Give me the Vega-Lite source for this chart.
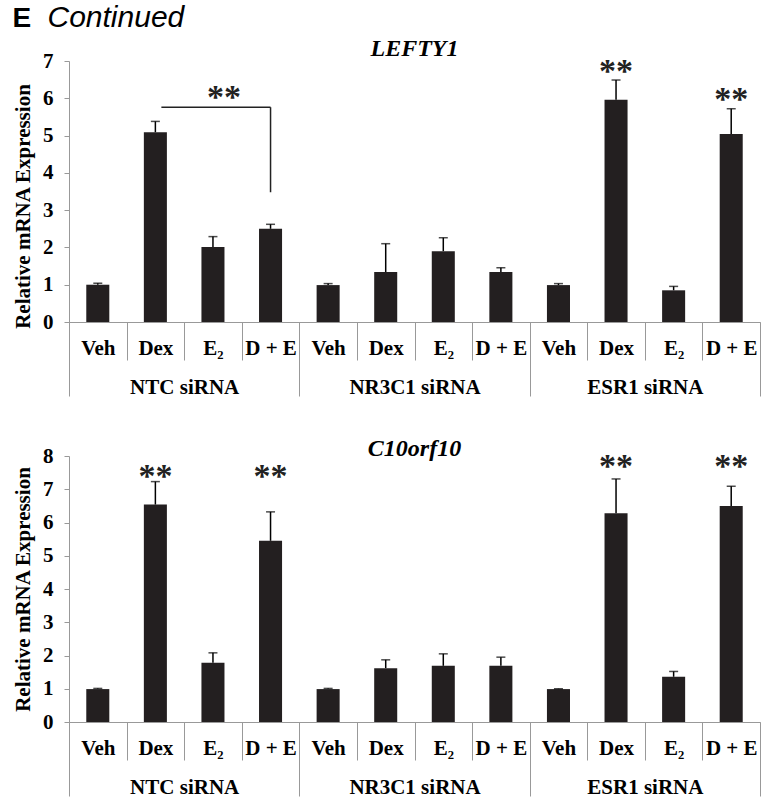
{
  "$schema": "https://vega.github.io/schema/vega-lite/v6.json",
  "background": "white",
  "padding": {"left": 12, "top": 3, "right": 5, "bottom": 5},
  "datasets": {
    "lefty": [
      {"group": "NTC siRNA", "treat": "Veh", "key": "NTC siRNA|Veh", "value": 1.0, "err": 1.04},
      {"group": "NTC siRNA", "treat": "Dex", "key": "NTC siRNA|Dex", "value": 5.09, "err": 5.38},
      {"group": "NTC siRNA", "treat": "E₂", "key": "NTC siRNA|E₂", "value": 2.01, "err": 2.29},
      {"group": "NTC siRNA", "treat": "D + E", "key": "NTC siRNA|D + E", "value": 2.5, "err": 2.62},
      {"group": "NR3C1 siRNA", "treat": "Veh", "key": "NR3C1 siRNA|Veh", "value": 0.99, "err": 1.03},
      {"group": "NR3C1 siRNA", "treat": "Dex", "key": "NR3C1 siRNA|Dex", "value": 1.34, "err": 2.1},
      {"group": "NR3C1 siRNA", "treat": "E₂", "key": "NR3C1 siRNA|E₂", "value": 1.9, "err": 2.26},
      {"group": "NR3C1 siRNA", "treat": "D + E", "key": "NR3C1 siRNA|D + E", "value": 1.34, "err": 1.455},
      {"group": "ESR1 siRNA", "treat": "Veh", "key": "ESR1 siRNA|Veh", "value": 0.99, "err": 1.03},
      {"group": "ESR1 siRNA", "treat": "Dex", "key": "ESR1 siRNA|Dex", "value": 5.96, "err": 6.49},
      {"group": "ESR1 siRNA", "treat": "E₂", "key": "ESR1 siRNA|E₂", "value": 0.85, "err": 0.955},
      {"group": "ESR1 siRNA", "treat": "D + E", "key": "ESR1 siRNA|D + E", "value": 5.04, "err": 5.72}
    ],
    "c10": [
      {"group": "NTC siRNA", "treat": "Veh", "key": "NTC siRNA|Veh", "value": 0.99, "err": 1.01},
      {"group": "NTC siRNA", "treat": "Dex", "key": "NTC siRNA|Dex", "value": 6.54, "err": 7.23},
      {"group": "NTC siRNA", "treat": "E₂", "key": "NTC siRNA|E₂", "value": 1.78, "err": 2.08},
      {"group": "NTC siRNA", "treat": "D + E", "key": "NTC siRNA|D + E", "value": 5.45, "err": 6.32},
      {"group": "NR3C1 siRNA", "treat": "Veh", "key": "NR3C1 siRNA|Veh", "value": 0.99, "err": 1.01},
      {"group": "NR3C1 siRNA", "treat": "Dex", "key": "NR3C1 siRNA|Dex", "value": 1.62, "err": 1.87},
      {"group": "NR3C1 siRNA", "treat": "E₂", "key": "NR3C1 siRNA|E₂", "value": 1.69, "err": 2.05},
      {"group": "NR3C1 siRNA", "treat": "D + E", "key": "NR3C1 siRNA|D + E", "value": 1.69, "err": 1.95},
      {"group": "ESR1 siRNA", "treat": "Veh", "key": "ESR1 siRNA|Veh", "value": 0.99, "err": 1.0},
      {"group": "ESR1 siRNA", "treat": "Dex", "key": "ESR1 siRNA|Dex", "value": 6.28, "err": 7.31},
      {"group": "ESR1 siRNA", "treat": "E₂", "key": "ESR1 siRNA|E₂", "value": 1.36, "err": 1.52},
      {"group": "ESR1 siRNA", "treat": "D + E", "key": "ESR1 siRNA|D + E", "value": 6.5, "err": 7.09}
    ],
    "lefty_stars": [
      {"key": "ESR1 siRNA|Dex", "y": 6.45, "label": "**"},
      {"key": "ESR1 siRNA|D + E", "y": 5.69, "label": "**"}
    ],
    "c10_stars": [
      {"key": "NTC siRNA|Dex", "y": 7.06, "label": "**"},
      {"key": "NTC siRNA|D + E", "y": 7.06, "label": "**"},
      {"key": "ESR1 siRNA|Dex", "y": 7.38, "label": "**"},
      {"key": "ESR1 siRNA|D + E", "y": 7.38, "label": "**"}
    ],
    "lefty_bracket": [
      {"from": "NTC siRNA|Dex", "to": "NTC siRNA|D + E", "mid": "NTC siRNA|E₂", "y": 5.76, "ylow": 3.48, "labely": 5.75, "label": "**"}
    ]
  },
  "title": {"text": "E", "anchor": "start", "frame": "bounds", "font": "Liberation Sans", "fontSize": 28, "fontWeight": "bold", "color": "black", "dy": 30, "offset": 0},
  "vconcat": [
    {
      "title": {"text": "Continued", "anchor": "start", "frame": "bounds", "font": "Liberation Sans", "fontSize": 30, "fontStyle": "italic", "fontWeight": "normal", "color": "black", "dx": 35, "offset": 4},
      "spacing": 40,
      "vconcat": [
        {
          "width": 691,
          "height": 261,
          "title": {"text": "LEFTY1", "frame": "group", "anchor": "middle", "font": "Liberation Serif", "fontSize": 24, "fontStyle": "italic", "fontWeight": "bold", "color": "black", "offset": -11},
          "layer": [
            {
              "data": {"name": "lefty"},
              "mark": {"type": "bar", "width": {"band": 0.4}, "color": "#231f20"},
              "encoding": {
                "x": {"field": "key", "type": "nominal", "scale": {"domain": ["NTC siRNA|Veh", "NTC siRNA|Dex", "NTC siRNA|E₂", "NTC siRNA|D + E", "NR3C1 siRNA|Veh", "NR3C1 siRNA|Dex", "NR3C1 siRNA|E₂", "NR3C1 siRNA|D + E", "ESR1 siRNA|Veh", "ESR1 siRNA|Dex", "ESR1 siRNA|E₂", "ESR1 siRNA|D + E"], "paddingInner": 0, "paddingOuter": 0},
                  "axis": {"orient": "bottom", "title": null, "tickBand": "extent", "tickSize": 38, "labelExpr": "split(datum.value, '|')[1]", "labelFontSize": 21, "labelPadding": -23, "labelAngle": 0}},
                "y": {"field": "value", "type": "quantitative", "scale": {"domain": [0, 7], "nice": false},
                  "axis": {"values": [0, 1, 2, 3, 4, 5, 6, 7], "labelOverlap": false, "title": "Relative mRNA Expression", "titleY": 145, "tickSize": 5, "labelFontSize": 21, "labelPadding": 11, "titleFontSize": 21, "titleFontWeight": "bold", "titlePadding": 9}}
              }
            },
            {
              "data": {"name": "lefty"},
              "mark": {"type": "rule", "color": "black", "strokeWidth": 1.5},
              "encoding": {
                "x": {"field": "key", "type": "nominal", "axis": null, "scale": {"domain": ["NTC siRNA|Veh", "NTC siRNA|Dex", "NTC siRNA|E₂", "NTC siRNA|D + E", "NR3C1 siRNA|Veh", "NR3C1 siRNA|Dex", "NR3C1 siRNA|E₂", "NR3C1 siRNA|D + E", "ESR1 siRNA|Veh", "ESR1 siRNA|Dex", "ESR1 siRNA|E₂", "ESR1 siRNA|D + E"], "paddingInner": 0, "paddingOuter": 0}},
                "y": {"field": "value", "type": "quantitative",
                  "axis": {"values": [0, 1, 2, 3, 4, 5, 6, 7], "labelOverlap": false, "title": "Relative mRNA Expression", "titleY": 145, "tickSize": 5, "labelFontSize": 21, "labelPadding": 11, "titleFontSize": 21, "titleFontWeight": "bold", "titlePadding": 9}},
                "y2": {"field": "err"}
              }
            },
            {
              "data": {"name": "lefty"},
              "mark": {"type": "tick", "color": "black", "thickness": 1.5, "size": 9},
              "encoding": {
                "x": {"field": "key", "type": "nominal", "axis": null, "scale": {"domain": ["NTC siRNA|Veh", "NTC siRNA|Dex", "NTC siRNA|E₂", "NTC siRNA|D + E", "NR3C1 siRNA|Veh", "NR3C1 siRNA|Dex", "NR3C1 siRNA|E₂", "NR3C1 siRNA|D + E", "ESR1 siRNA|Veh", "ESR1 siRNA|Dex", "ESR1 siRNA|E₂", "ESR1 siRNA|D + E"], "paddingInner": 0, "paddingOuter": 0}},
                "y": {"field": "err", "type": "quantitative",
                  "axis": {"values": [0, 1, 2, 3, 4, 5, 6, 7], "labelOverlap": false, "title": "Relative mRNA Expression", "titleY": 145, "tickSize": 5, "labelFontSize": 21, "labelPadding": 11, "titleFontSize": 21, "titleFontWeight": "bold", "titlePadding": 9}}
              }
            },
            {
              "data": {"name": "lefty_stars"},
              "mark": {"type": "text", "font": "Liberation Serif", "fontSize": 34, "fontWeight": "bold", "color": "#222", "baseline": "alphabetic"},
              "encoding": {
                "x": {"field": "key", "type": "nominal", "axis": null, "scale": {"domain": ["NTC siRNA|Veh", "NTC siRNA|Dex", "NTC siRNA|E₂", "NTC siRNA|D + E", "NR3C1 siRNA|Veh", "NR3C1 siRNA|Dex", "NR3C1 siRNA|E₂", "NR3C1 siRNA|D + E", "ESR1 siRNA|Veh", "ESR1 siRNA|Dex", "ESR1 siRNA|E₂", "ESR1 siRNA|D + E"], "paddingInner": 0, "paddingOuter": 0}},
                "y": {"field": "y", "type": "quantitative",
                  "axis": {"values": [0, 1, 2, 3, 4, 5, 6, 7], "labelOverlap": false, "title": "Relative mRNA Expression", "titleY": 145, "tickSize": 5, "labelFontSize": 21, "labelPadding": 11, "titleFontSize": 21, "titleFontWeight": "bold", "titlePadding": 9}},
                "text": {"field": "label"}
              }
            },
            {
              "data": {"name": "lefty_bracket"},
              "mark": {"type": "text", "font": "Liberation Serif", "fontSize": 34, "fontWeight": "bold", "color": "#222", "baseline": "alphabetic", "dx": 11},
              "encoding": {
                "x": {"field": "mid", "type": "nominal", "axis": null, "scale": {"domain": ["NTC siRNA|Veh", "NTC siRNA|Dex", "NTC siRNA|E₂", "NTC siRNA|D + E", "NR3C1 siRNA|Veh", "NR3C1 siRNA|Dex", "NR3C1 siRNA|E₂", "NR3C1 siRNA|D + E", "ESR1 siRNA|Veh", "ESR1 siRNA|Dex", "ESR1 siRNA|E₂", "ESR1 siRNA|D + E"], "paddingInner": 0, "paddingOuter": 0}},
                "y": {"field": "labely", "type": "quantitative",
                  "axis": {"values": [0, 1, 2, 3, 4, 5, 6, 7], "labelOverlap": false, "title": "Relative mRNA Expression", "titleY": 145, "tickSize": 5, "labelFontSize": 21, "labelPadding": 11, "titleFontSize": 21, "titleFontWeight": "bold", "titlePadding": 9}},
                "text": {"field": "label"}
              }
            },
            {
              "data": {"name": "lefty_bracket"},
              "mark": {"type": "rule", "color": "#222", "strokeWidth": 1.5, "xOffset": 6},
              "encoding": {
                "x": {"field": "from", "type": "nominal", "axis": null, "scale": {"domain": ["NTC siRNA|Veh", "NTC siRNA|Dex", "NTC siRNA|E₂", "NTC siRNA|D + E", "NR3C1 siRNA|Veh", "NR3C1 siRNA|Dex", "NR3C1 siRNA|E₂", "NR3C1 siRNA|D + E", "ESR1 siRNA|Veh", "ESR1 siRNA|Dex", "ESR1 siRNA|E₂", "ESR1 siRNA|D + E"], "paddingInner": 0, "paddingOuter": 0}},
                "x2": {"field": "to"},
                "y": {"field": "y", "type": "quantitative",
                  "axis": {"values": [0, 1, 2, 3, 4, 5, 6, 7], "labelOverlap": false, "title": "Relative mRNA Expression", "titleY": 145, "tickSize": 5, "labelFontSize": 21, "labelPadding": 11, "titleFontSize": 21, "titleFontWeight": "bold", "titlePadding": 9}}
              }
            },
            {
              "data": {"name": "lefty_bracket"},
              "mark": {"type": "rule", "color": "#222", "strokeWidth": 1.5},
              "encoding": {
                "x": {"field": "to", "type": "nominal", "axis": null, "scale": {"domain": ["NTC siRNA|Veh", "NTC siRNA|Dex", "NTC siRNA|E₂", "NTC siRNA|D + E", "NR3C1 siRNA|Veh", "NR3C1 siRNA|Dex", "NR3C1 siRNA|E₂", "NR3C1 siRNA|D + E", "ESR1 siRNA|Veh", "ESR1 siRNA|Dex", "ESR1 siRNA|E₂", "ESR1 siRNA|D + E"], "paddingInner": 0, "paddingOuter": 0}},
                "y": {"field": "y", "type": "quantitative",
                  "axis": {"values": [0, 1, 2, 3, 4, 5, 6, 7], "labelOverlap": false, "title": "Relative mRNA Expression", "titleY": 145, "tickSize": 5, "labelFontSize": 21, "labelPadding": 11, "titleFontSize": 21, "titleFontWeight": "bold", "titlePadding": 9}},
                "y2": {"field": "ylow"}
              }
            },
            {
              "data": {"name": "lefty"},
              "mark": {"type": "point", "opacity": 0},
              "encoding": {
                "x": {"field": "group", "type": "nominal", "scale": {"domain": ["NTC siRNA", "NR3C1 siRNA", "ESR1 siRNA"], "paddingInner": 0, "paddingOuter": 0},
                  "axis": {"orient": "bottom", "title": null, "domain": false, "tickBand": "extent", "tickSize": 74, "labelFontSize": 21, "labelPadding": -20, "labelAngle": 0}}
              }
            }
          ],
          "resolve": {"scale": {"x": "independent"}, "axis": {"x": "independent"}}
        },
        {
          "width": 691,
          "height": 266,
          "title": {"text": "C10orf10", "frame": "group", "anchor": "middle", "font": "Liberation Serif", "fontSize": 24, "fontStyle": "italic", "fontWeight": "bold", "color": "black", "offset": -16},
          "layer": [
            {
              "data": {"name": "c10"},
              "mark": {"type": "bar", "width": {"band": 0.4}, "color": "#231f20"},
              "encoding": {
                "x": {"field": "key", "type": "nominal", "scale": {"domain": ["NTC siRNA|Veh", "NTC siRNA|Dex", "NTC siRNA|E₂", "NTC siRNA|D + E", "NR3C1 siRNA|Veh", "NR3C1 siRNA|Dex", "NR3C1 siRNA|E₂", "NR3C1 siRNA|D + E", "ESR1 siRNA|Veh", "ESR1 siRNA|Dex", "ESR1 siRNA|E₂", "ESR1 siRNA|D + E"], "paddingInner": 0, "paddingOuter": 0},
                  "axis": {"orient": "bottom", "title": null, "tickBand": "extent", "tickSize": 38, "labelExpr": "split(datum.value, '|')[1]", "labelFontSize": 21, "labelPadding": -23, "labelAngle": 0}},
                "y": {"field": "value", "type": "quantitative", "scale": {"domain": [0, 8], "nice": false},
                  "axis": {"values": [0, 1, 2, 3, 4, 5, 6, 7, 8], "labelOverlap": false, "title": "Relative mRNA Expression", "tickSize": 5, "labelFontSize": 21, "labelPadding": 11, "titleFontSize": 21, "titleFontWeight": "bold", "titlePadding": 9}}
              }
            },
            {
              "data": {"name": "c10"},
              "mark": {"type": "rule", "color": "black", "strokeWidth": 1.5},
              "encoding": {
                "x": {"field": "key", "type": "nominal", "axis": null, "scale": {"domain": ["NTC siRNA|Veh", "NTC siRNA|Dex", "NTC siRNA|E₂", "NTC siRNA|D + E", "NR3C1 siRNA|Veh", "NR3C1 siRNA|Dex", "NR3C1 siRNA|E₂", "NR3C1 siRNA|D + E", "ESR1 siRNA|Veh", "ESR1 siRNA|Dex", "ESR1 siRNA|E₂", "ESR1 siRNA|D + E"], "paddingInner": 0, "paddingOuter": 0}},
                "y": {"field": "value", "type": "quantitative",
                  "axis": {"values": [0, 1, 2, 3, 4, 5, 6, 7, 8], "labelOverlap": false, "title": "Relative mRNA Expression", "tickSize": 5, "labelFontSize": 21, "labelPadding": 11, "titleFontSize": 21, "titleFontWeight": "bold", "titlePadding": 9}},
                "y2": {"field": "err"}
              }
            },
            {
              "data": {"name": "c10"},
              "mark": {"type": "tick", "color": "black", "thickness": 1.5, "size": 9},
              "encoding": {
                "x": {"field": "key", "type": "nominal", "axis": null, "scale": {"domain": ["NTC siRNA|Veh", "NTC siRNA|Dex", "NTC siRNA|E₂", "NTC siRNA|D + E", "NR3C1 siRNA|Veh", "NR3C1 siRNA|Dex", "NR3C1 siRNA|E₂", "NR3C1 siRNA|D + E", "ESR1 siRNA|Veh", "ESR1 siRNA|Dex", "ESR1 siRNA|E₂", "ESR1 siRNA|D + E"], "paddingInner": 0, "paddingOuter": 0}},
                "y": {"field": "err", "type": "quantitative",
                  "axis": {"values": [0, 1, 2, 3, 4, 5, 6, 7, 8], "labelOverlap": false, "title": "Relative mRNA Expression", "tickSize": 5, "labelFontSize": 21, "labelPadding": 11, "titleFontSize": 21, "titleFontWeight": "bold", "titlePadding": 9}}
              }
            },
            {
              "data": {"name": "c10_stars"},
              "mark": {"type": "text", "font": "Liberation Serif", "fontSize": 34, "fontWeight": "bold", "color": "#222", "baseline": "alphabetic"},
              "encoding": {
                "x": {"field": "key", "type": "nominal", "axis": null, "scale": {"domain": ["NTC siRNA|Veh", "NTC siRNA|Dex", "NTC siRNA|E₂", "NTC siRNA|D + E", "NR3C1 siRNA|Veh", "NR3C1 siRNA|Dex", "NR3C1 siRNA|E₂", "NR3C1 siRNA|D + E", "ESR1 siRNA|Veh", "ESR1 siRNA|Dex", "ESR1 siRNA|E₂", "ESR1 siRNA|D + E"], "paddingInner": 0, "paddingOuter": 0}},
                "y": {"field": "y", "type": "quantitative",
                  "axis": {"values": [0, 1, 2, 3, 4, 5, 6, 7, 8], "labelOverlap": false, "title": "Relative mRNA Expression", "tickSize": 5, "labelFontSize": 21, "labelPadding": 11, "titleFontSize": 21, "titleFontWeight": "bold", "titlePadding": 9}},
                "text": {"field": "label"}
              }
            },
            {
              "data": {"name": "c10"},
              "mark": {"type": "point", "opacity": 0},
              "encoding": {
                "x": {"field": "group", "type": "nominal", "scale": {"domain": ["NTC siRNA", "NR3C1 siRNA", "ESR1 siRNA"], "paddingInner": 0, "paddingOuter": 0},
                  "axis": {"orient": "bottom", "title": null, "domain": false, "tickBand": "extent", "tickSize": 74, "labelFontSize": 21, "labelPadding": -20, "labelAngle": 0}}
              }
            }
          ],
          "resolve": {"scale": {"x": "independent"}, "axis": {"x": "independent"}}
        }
      ]
    }
  ],
  "config": {
    "view": {"stroke": null},
    "axis": {"labelFont": "Liberation Serif", "labelFontWeight": "bold", "labelColor": "black", "titleFont": "Liberation Serif", "titleColor": "black", "domainColor": "#999999", "tickColor": "#999999", "grid": false, "labelOverlap": false, "labelBound": false}
  }
}
